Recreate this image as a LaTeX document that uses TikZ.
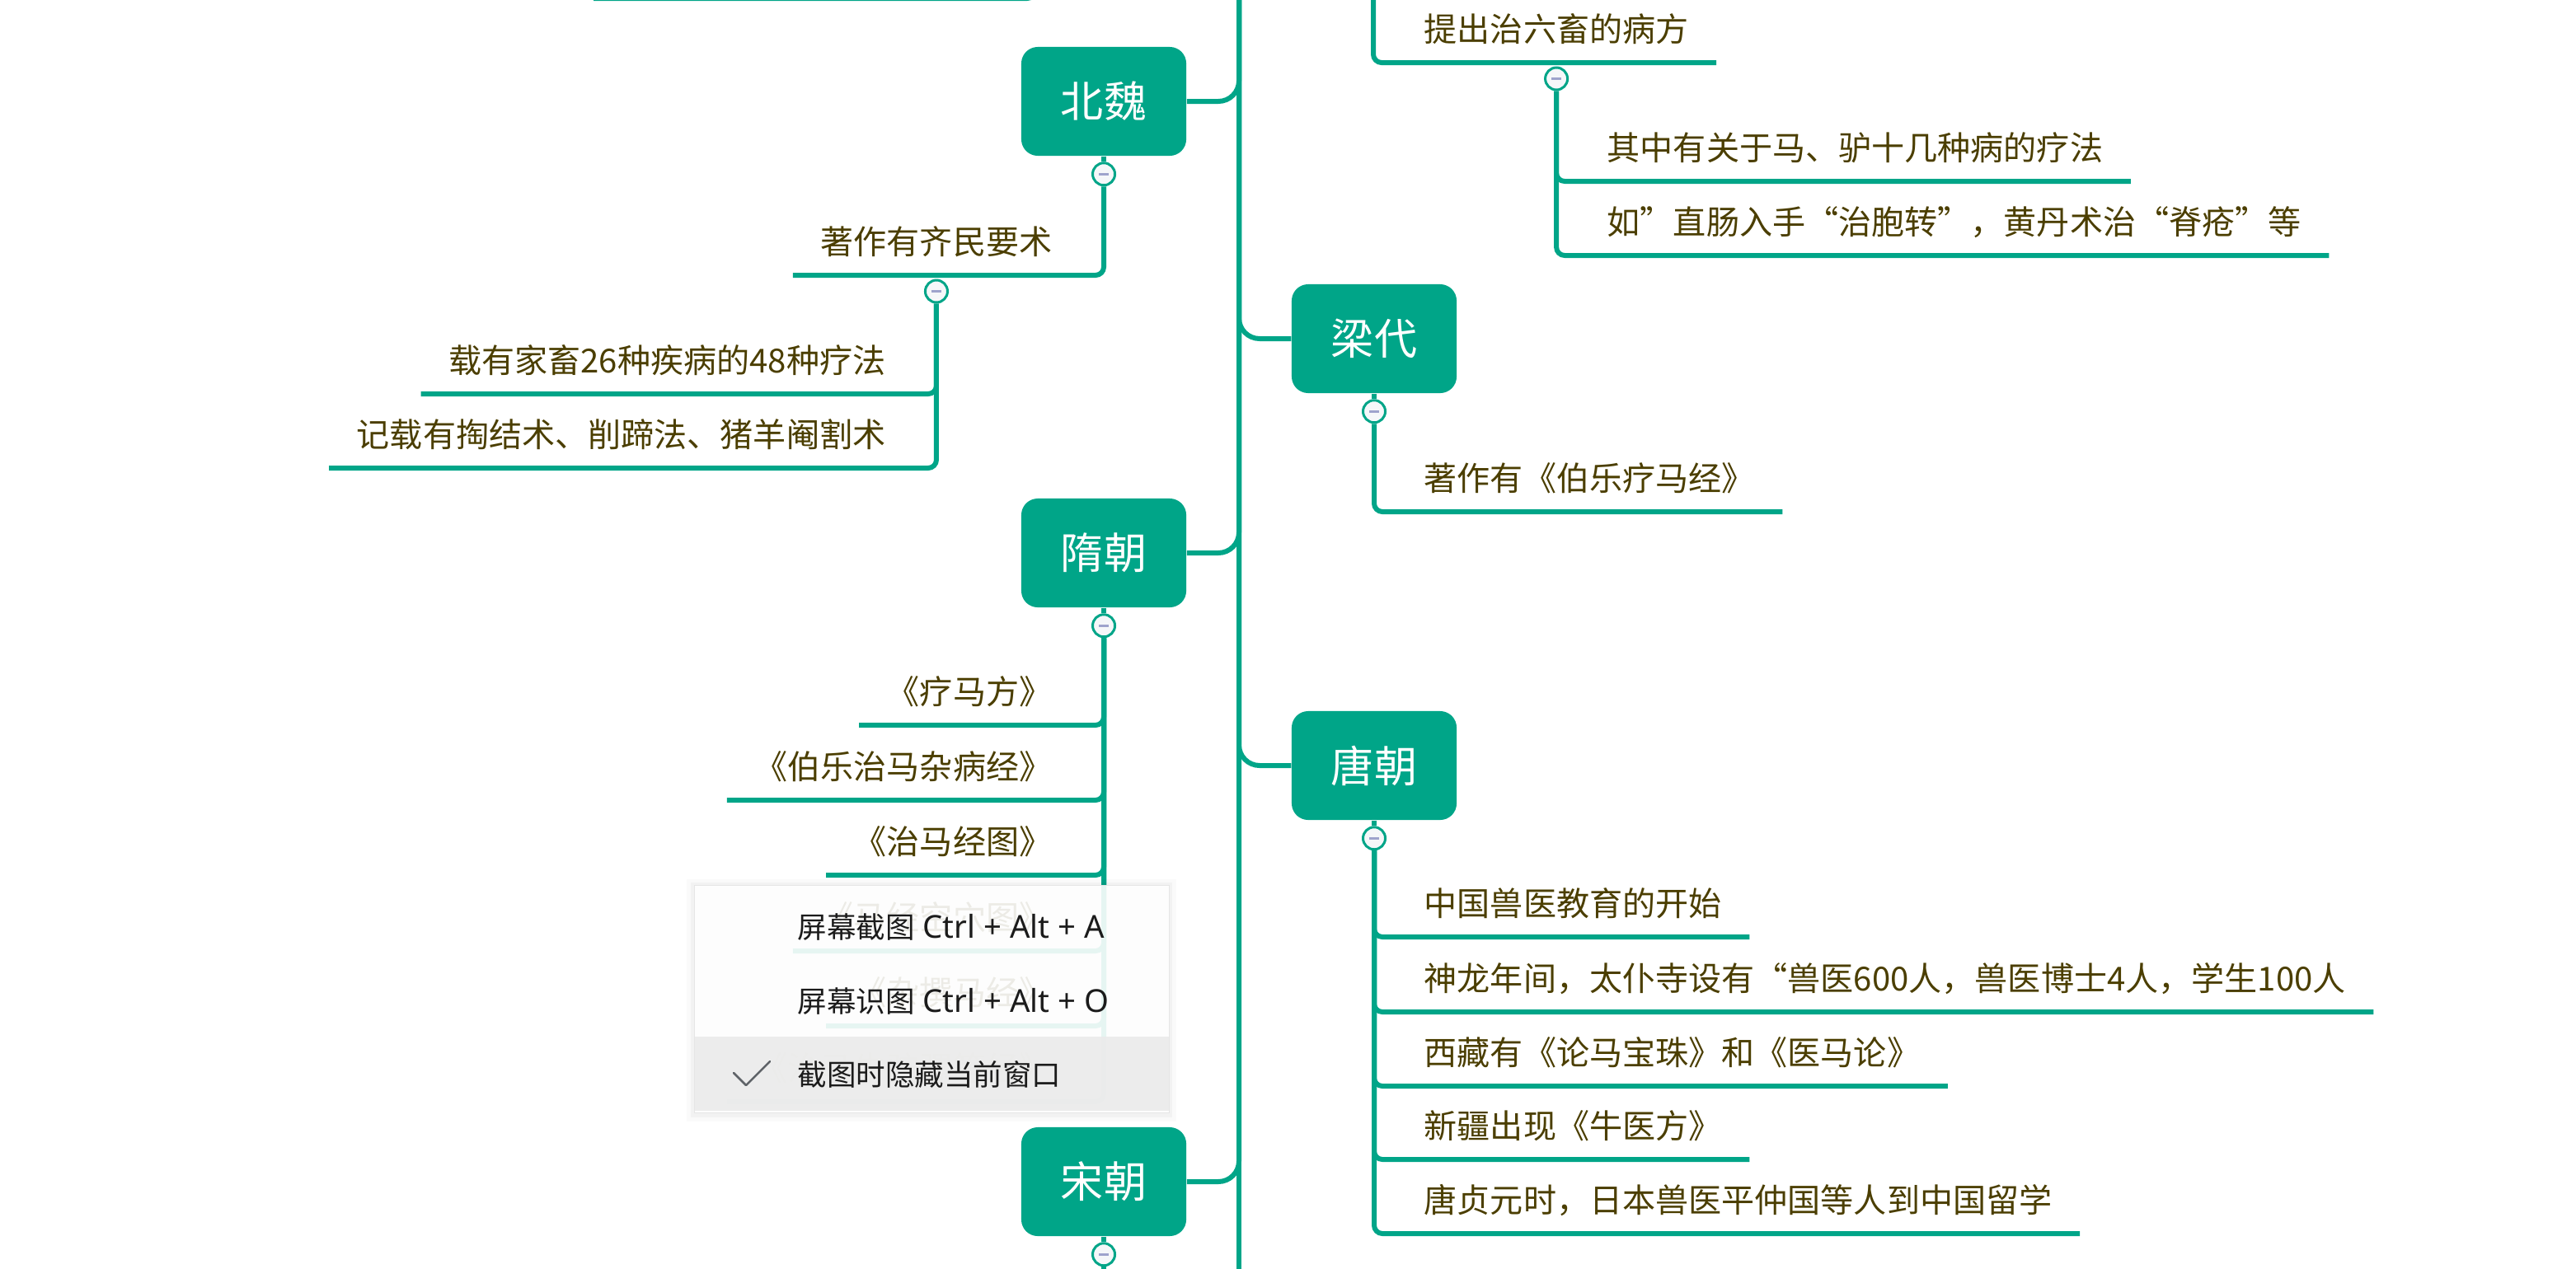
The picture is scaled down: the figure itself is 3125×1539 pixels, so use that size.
\documentclass[tikz,border=0pt]{standalone}
\usepackage{fontspec}
\setmainfont{Noto Sans CJK SC}
\newfontfamily\menulatin{Noto Sans}
\usetikzlibrary{positioning}
\definecolor{mapline}{HTML}{00A588}
\definecolor{itemtext}{HTML}{4B3E00}
\definecolor{foldfill}{HTML}{F5F7F9}
\definecolor{foldminus}{HTML}{9EA3CC}
\definecolor{menutext}{HTML}{1B1B1B}
\definecolor{menuhover}{HTML}{EBEBEB}
\definecolor{menuedge}{HTML}{E6E6E6}
\definecolor{tickgray}{HTML}{5F6368}
\newcommand\itemfont{\fontsize{11.4pt}{14pt}\selectfont}
\newcommand\erafont{\fontsize{14.8pt}{18pt}\selectfont}
\newcommand\menufont{\fontsize{10.1pt}{12pt}\selectfont}
\newcommand\keys[1]{{\menulatin\fontsize{10.9pt}{12pt}\selectfont #1}}
\newcommand\foldmark{\color{foldminus}\rule{0.12cm}{0.03cm}}
\tikzset{
  era/.style={rounded corners=0.2cm, fill=mapline, text=white, font=\erafont,
    minimum width=2cm, minimum height=1.32cm},
  item/.style={text=itemtext, font=\itemfont, inner xsep=0.33cm, inner ysep=0pt,
    text height=0.36cm, text depth=0.25cm},
  fold/.style={circle, draw=mapline, line width=0.03cm, fill=foldfill,
    minimum size=0.27cm, inner sep=0pt},
  branch/.style={draw=mapline, line width=0.06cm, rounded corners=0.1cm},
  menuitem/.style={anchor=west, inner sep=0pt, text=menutext, font=\menufont}
}

\begin{document}
\begin{tikzpicture}[x=0.01cm, y=-0.01cm]
    \useasboundingbox (0,0) rectangle (3125,1539);
    % trunk
    \coordinate (trunktop) at (1503,-30);
    \coordinate (trunkbot) at (1503,1570);
    \draw[branch] (trunktop) -- (trunkbot);

    % eras
    \node[era] (beiwei) at (1339,123) {北魏};
    \node[era] (liang) at (1667,411) {梁代};
    \node[era] (sui) at (1339,671) {隋朝};
    \node[era] (tang) at (1667,929) {唐朝};
    \node[era] (song) at (1339,1434) {宋朝};
    \foreach \e in {beiwei,sui,song}
        \draw[branch, rounded corners=0.25cm] (\e.east) -| (trunktop);
    \foreach \e in {liang,tang}
        \draw[branch, rounded corners=0.25cm] (\e.west) -| (trunktop);
    \foreach \e in {beiwei,liang,sui,tang,song} {
        \node[fold, below=0.065cm of \e] (\e-f) {\foldmark};
        \draw[branch] (\e) -- (\e-f);
    }

    % cut-off item above
    \coordinate (prevend) at (720,-2);
    \coordinate (prevup) at (1256,-40);
    \draw[branch] (prevend) -| (prevup);

    % 北魏
    \node[item, anchor=south east] (qimin) at (1310,334) {著作有齐民要术};
    \draw[branch] (beiwei-f.south) |- (qimin.south east) -- (qimin.south west);
    \node[fold, below=0.045cm of qimin] (qimin-f) {\foldmark};
    \node[item, anchor=south east] (liaofa) at (1108,478) {载有家畜26种疾病的48种疗法};
    \node[item, anchor=south east] (yange) at (1108,568) {记载有掏结术、削蹄法、猪羊阉割术};
    \foreach \n in {liaofa,yange}
        \draw[branch] (qimin-f.south) |- (\n.south east) -- (\n.south west);

    % item above 梁代
    \coordinate (hanv) at (1666,-30);
    \node[item, anchor=south west] (liuchu) at (1694,76) {提出治六畜的病方};
    \draw[branch] (hanv) |- (liuchu.south west) -- (liuchu.south east);
    \node[fold, below=0.045cm of liuchu] (liuchu-f) {\foldmark};
    \node[item, anchor=south west] (malv) at (1916,220) {其中有关于马、驴十几种病的疗法};
    \node[item, anchor=south west] (baozhuan) at (1916,310) {如”直肠入手“治胞转”，黄丹术治“脊疮”等};
    \foreach \n in {malv,baozhuan}
        \draw[branch] (liuchu-f.south) |- (\n.south west) -- (\n.south east);

    % 梁代
    \node[item, anchor=south west] (bole) at (1694,621) {著作有《伯乐疗马经》};
    \draw[branch] (liang-f.south) |- (bole.south west) -- (bole.south east);

    % 隋朝
    \node[item, anchor=south east] (liaoma) at (1310,880) {《疗马方》};
    \node[item, anchor=south east] (zabing) at (1310,971) {《伯乐治马杂病经》};
    \node[item, anchor=south east] (jingtu) at (1310,1062) {《治马经图》};
    \node[item, anchor=south east] (kongxue) at (1310,1154) {《马经空穴图》};
    \node[item, anchor=south east] (zazhuan) at (1310,1245) {《杂撰马经》};
    \node[item, anchor=south east] (tuoluo) at (1310,1337) {《治马牛驼骡等经》};
    \foreach \n in {liaoma,zabing,jingtu,kongxue,zazhuan,tuoluo}
        \draw[branch] (sui-f.south) |- (\n.south east) -- (\n.south west);

    % 唐朝
    \node[item, anchor=south west] (jiaoyu) at (1694,1137) {中国兽医教育的开始};
    \node[item, anchor=south west] (shenlong) at (1694,1228) {神龙年间，太仆寺设有“兽医600人，兽医博士4人，学生100人};
    \node[item, anchor=south west] (xizang) at (1694,1318) {西藏有《论马宝珠》和《医马论》};
    \node[item, anchor=south west] (xinjiang) at (1694,1407) {新疆出现《牛医方》};
    \node[item, anchor=south west] (liuxue) at (1694,1497) {唐贞元时，日本兽医平仲国等人到中国留学};
    \foreach \n in {jiaoyu,shenlong,xizang,xinjiang,liuxue}
        \draw[branch] (tang-f.south) |- (\n.south west) -- (\n.south east);

    % 宋朝
    \coordinate (songend) at (1339,1570);
    \draw[branch] (song-f.south) -- (songend);

    % context menu on top
    \fill[black, opacity=0.02] (833,1067) rectangle (1427,1361);
    \fill[black, opacity=0.03] (838,1071) rectangle (1422,1356);
    \node[draw=menuedge, line width=0.01cm, fill=white, fill opacity=0.9, inner sep=0pt,
        minimum width=5.76cm, minimum height=2.76cm, anchor=north west] (menu) at (842,1074) {};
    \node[fill=menuhover, fill opacity=0.9, inner sep=0pt, minimum width=5.75cm,
        minimum height=0.9cm, anchor=south] (hover) at ([yshift=0.02cm]menu.south) {};
    \node[menuitem] (shot) at (967,1125) {屏幕截图\keys{ Ctrl + Alt + A}};
    \node[menuitem] (ocr) at (967,1215) {屏幕识图\keys{ Ctrl + Alt + O}};
    \node[menuitem] (hide) at (967,1304) {截图时隐藏当前窗口};
    \draw[tickgray, line width=0.025cm, line cap=round, line join=round]
        (890,1302) -- (905,1317) -- (934,1288);
\end{tikzpicture}
\end{document}
